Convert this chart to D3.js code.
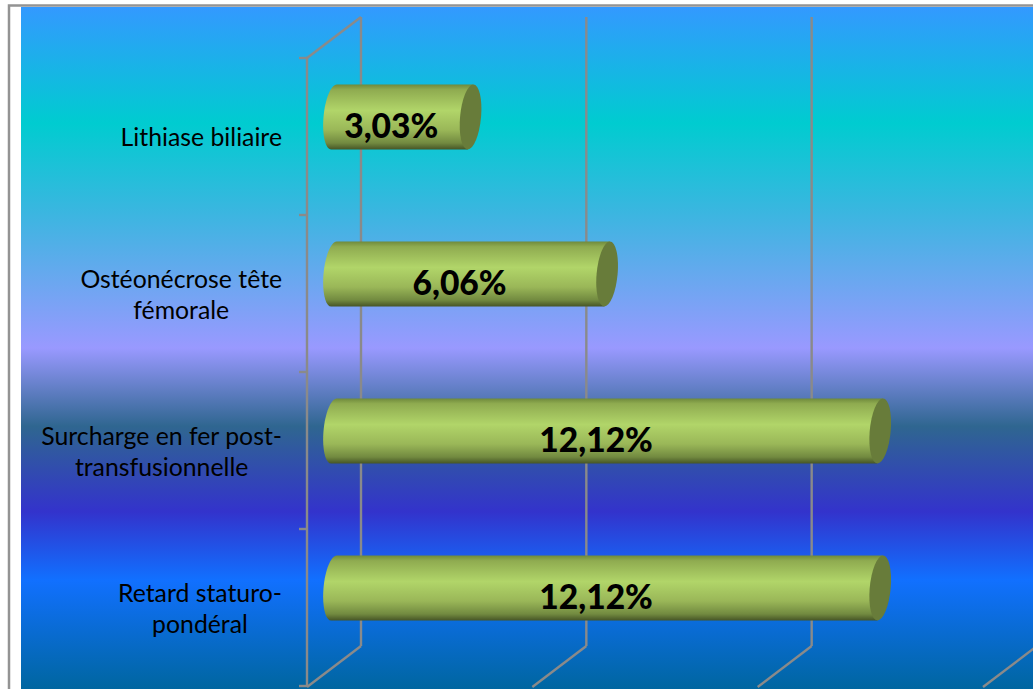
<!DOCTYPE html>
<html>
<head>
<meta charset="utf-8">
<script src="https://cdn.jsdelivr.net/npm/d3@7/dist/d3.min.js"></script>
<style>
  html, body { margin: 0; padding: 0; background: #fff; overflow: hidden; }
  svg { display: block; }
  text { font-family: Lato, "Open Sans", sans-serif; fill: #000; }
</style>
</head>
<body>
<svg id="chart" width="1033" height="689"></svg>
<script>
// Complication frequencies, listed top to bottom
const categories = [
  ["Lithiase biliaire"],
  ["Ostéonécrose tête", "fémorale"],
  ["Surcharge en fer post-", "transfusionnelle"],
  ["Retard staturo-", "pondéral"]
];
const values = [3.03, 6.06, 12.12, 12.12];
const valueLabels = ["3,03%", "6,06%", "12,12%", "12,12%"];
const gridTicks = [0, 5, 10, 15];

// Plot-wide background ramp: [offset, colour]
const backgroundStops = [
  [0, "#3399ff"], [0.17, "#00ccd0"], [0.30, "#3ab6e0"], [0.50, "#9999ff"],
  [0.615, "#2f6690"], [0.74, "#3333cc"], [0.84, "#1170ff"], [1, "#0066a0"]
];
const barStops = [
  [0, "#6f8a3c"], [0.08, "#8fab50"], [0.40, "#b1d569"], [0.70, "#9ab758"],
  [0.90, "#728a40"], [1, "#465526"]
];

const svg = d3.select("#chart");
const defs = svg.append("defs");

function addGradient(id, stops) {
  const g = defs.append("linearGradient").attr("id", id)
    .attr("x1", 0).attr("y1", 0).attr("x2", 0).attr("y2", 1);
  g.selectAll("stop").data(stops).join("stop")
    .attr("offset", d => d[0]).attr("stop-color", d => d[1]);
}
addGradient("bg", backgroundStops);
addGradient("cyl", barStops);

// Frame and plot background
svg.append("rect").attr("x", 9).attr("y", 5.5).attr("width", 1040).attr("height", 700)
  .attr("fill", "#fff").attr("stroke", "#939393").attr("stroke-width", 2.5);
svg.append("rect").attr("x", 21).attr("y", 7).attr("width", 1012).attr("height", 682)
  .attr("fill", "url(#bg)");

// 3D box: the back wall sits up and to the right of the front plane
const depthX = 54, depthY = -40, barDepth = 27;
const x = d3.scaleLinear().domain([0, 15]).range([307, 983]);
const y = d3.scaleBand().domain(d3.range(categories.length)).range([58, 686]);
const edges = d3.range(categories.length + 1).map(i => y.range()[0] + i * y.step());

const gridColor = "#8a8a8a";
const axis = svg.append("g").attr("stroke", gridColor).attr("stroke-width", 2.4).attr("fill", "none");

axis.selectAll("line.wall").data(gridTicks.slice(0, 3)).join("line").attr("class", "wall")
  .attr("x1", d => x(d) + depthX).attr("x2", d => x(d) + depthX)
  .attr("y1", y.range()[0] + depthY - 1).attr("y2", y.range()[1] + depthY);
axis.selectAll("line.floor").data(gridTicks).join("line").attr("class", "floor")
  .attr("x1", d => x(d)).attr("x2", d => x(d) + depthX)
  .attr("y1", y.range()[1] + 1).attr("y2", y.range()[1] + depthY);
axis.append("line")
  .attr("x1", x(0)).attr("x2", x(0) + depthX)
  .attr("y1", y.range()[0]).attr("y2", y.range()[0] + depthY - 1);
axis.append("line")
  .attr("x1", x(0)).attr("x2", x(0))
  .attr("y1", y.range()[0]).attr("y2", y.range()[1]);
axis.selectAll("line.tick").data(edges).join("line").attr("class", "tick")
  .attr("x1", x(0) - 8).attr("x2", x(0)).attr("y1", d => d).attr("y2", d => d);

// Cylinders: skewed elliptical ends joined by a shaded body
const rx = 10.5, ry = 32.5, skew = 2.8, kappa = 0.5523;
const zeroX = x(0) + barDepth;
const centerY = i => y(i) + y.bandwidth() / 2 + depthY / 2 + 0.5;

function bodyPath(x0, x1, cy) {
  const p = d3.path();
  p.moveTo(x0 + skew, cy - ry);
  p.lineTo(x1 + skew, cy - ry);
  p.lineTo(x1 - skew, cy + ry);
  p.lineTo(x0 - skew, cy + ry);
  p.bezierCurveTo(x0 - skew - kappa * rx, cy + ry,
                  x0 - rx - kappa * skew, cy + kappa * ry,
                  x0 - rx, cy);
  p.bezierCurveTo(x0 - rx + kappa * skew, cy - kappa * ry,
                  x0 + skew - kappa * rx, cy - ry,
                  x0 + skew, cy - ry);
  p.closePath();
  return p.toString();
}

const bars = svg.append("g").selectAll("g").data(values).join("g");
bars.append("path")
  .attr("d", (d, i) => bodyPath(zeroX, x(d) + barDepth, centerY(i)))
  .attr("fill", "url(#cyl)");
bars.append("ellipse")
  .attr("transform", (d, i) =>
    `translate(${x(d) + barDepth},${centerY(i)}) skewX(${-Math.atan(skew / ry) * 180 / Math.PI})`)
  .attr("rx", rx).attr("ry", ry)
  .attr("fill", "#687c3a");

// Value labels, slightly left of and below each bar's middle
bars.append("text")
  .attr("x", d => (zeroX + x(d) + barDepth) / 2 - 11)
  .attr("y", (d, i) => centerY(i) + 21)
  .attr("text-anchor", "middle")
  .attr("font-size", 33.6).attr("font-weight", 900)
  .text((d, i) => valueLabels[i]);

// Category labels: lines centred on each other, block right-aligned to the axis
const labelRight = 282, lineHeight = 31.5, labelSize = 24.8;
const labels = svg.append("g").selectAll("text").data(categories).join("text")
  .attr("font-size", labelSize).attr("text-anchor", "middle");
labels.each(function (lines, i) {
  const t = d3.select(this);
  const mid = y(i) + y.bandwidth() / 2;
  const spans = t.selectAll("tspan").data(lines).join("tspan").text(d => d);
  let width = 0;
  spans.each(function () { width = Math.max(width, this.getComputedTextLength()); });
  const baseline = lines.length === 1 ? mid + 9 : mid - 6;
  spans.attr("x", labelRight - width / 2)
       .attr("y", (d, k) => baseline + k * lineHeight);
});
</script>
</body>
</html>
